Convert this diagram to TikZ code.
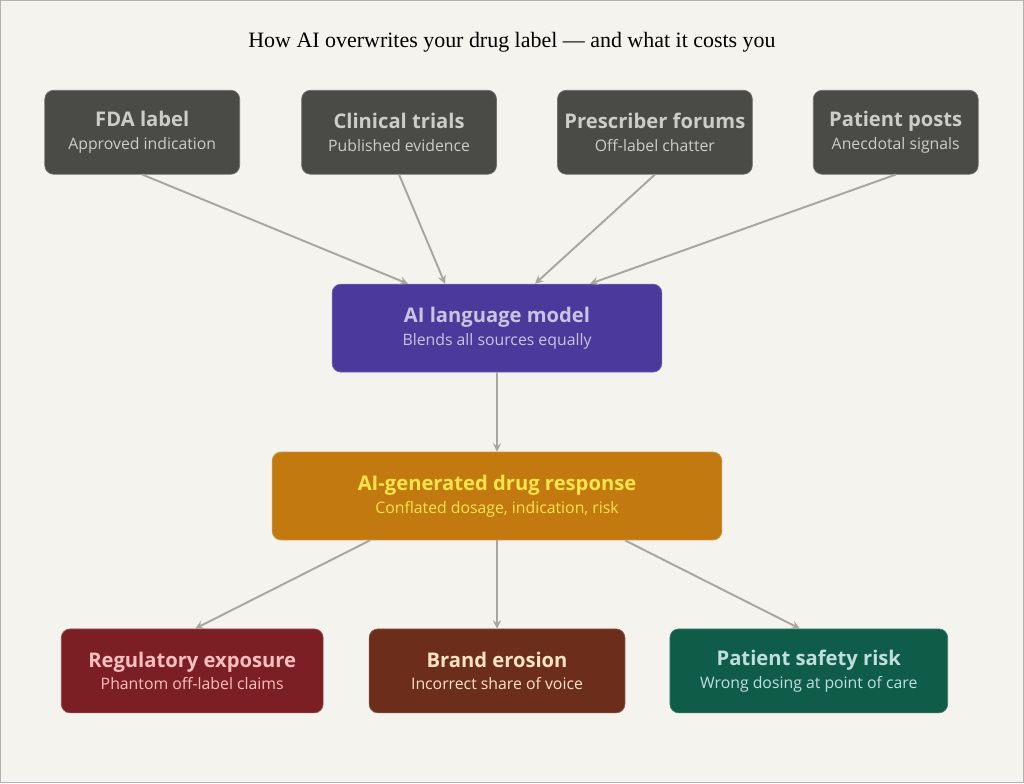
\documentclass[tikz,border=0pt]{standalone}
\usepackage{fontspec}
\setmainfont{Liberation Serif}
\setsansfont{Open Sans}
\usetikzlibrary{positioning}
\definecolor{bgc}{HTML}{F5F3EE}
\definecolor{srcc}{HTML}{4A4A47}
\definecolor{llmc}{HTML}{4B3A9C}
\definecolor{outc}{HTML}{C27A10}
\definecolor{regc}{HTML}{7C1F25}
\definecolor{brdc}{HTML}{6C2E1B}
\definecolor{patc}{HTML}{0F5C49}
\definecolor{arrc}{HTML}{A9A6A0}

\begin{document}
\begin{tikzpicture}[x=0.02cm,y=-0.02cm]
\tikzset{% styles for the boxes
    box/.style={rounded corners=5pt,minimum height=1.68cm,align=center,
                font=\sffamily\fontsize{9}{13}\selectfont,draw=#1!80!white,fill=#1},
    src/.style={box=srcc,minimum width=3.9cm,text=white!72!srcc},
    hit/.style={box=#1,minimum width=5.2cm,text=white!80!#1},
    arr/.style={-stealth,line width=1.1pt,arrc}}
\newcommand{\ttl}[1]{{\fontsize{11.5}{14}\selectfont\bfseries #1}}
\fill[bgc,draw=gray!60] (0,0) rectangle (1024,783);
\node[font=\fontsize{12.5}{15}\selectfont] (title) at (512,42) {How AI overwrites your drug label --- and what it costs you};
\node[src] (fda) at (142,132) {\ttl{FDA label}\\Approved indication};
\node[src] (trials) at (399,132) {\ttl{Clinical trials}\\Published evidence};
\node[src] (forums) at (655,132) {\ttl{Prescriber forums}\\Off-label chatter};
\node[src,minimum width=3.3cm] (posts) at (896,132) {\ttl{Patient posts}\\Anecdotal signals};
\node[box=llmc,minimum width=6.6cm,minimum height=1.76cm,text=llmc!30!white] (llm) at (497,328) {\ttl{AI language model}\\Blends all sources equally};
\node[box=outc,minimum width=9cm,minimum height=1.76cm,text=orange!30!yellow!70!white] (resp) at (497,496) {\ttl{AI-generated drug response}\\Conflated dosage, indication, risk};
\node[hit=regc,minimum width=5.24cm,text=red!25!white] (reg) at (192,671) {\ttl{Regulatory exposure}\\Phantom off-label claims};
\node[hit=brdc,minimum width=5.12cm,text=orange!22!white] (brand) at (497,671) {\ttl{Brand erosion}\\Incorrect share of voice};
\node[hit=patc,minimum width=5.56cm,text=teal!25!white] (safety) at (809,671) {\ttl{Patient safety risk}\\Wrong dosing at point of care};
\draw[arr] (fda.south) -- ([xshift=-1.78cm]llm.north);
\draw[arr] (trials.south) -- ([xshift=-1.04cm]llm.north);
\draw[arr] (forums.south) -- ([xshift=0.76cm]llm.north);
\draw[arr] (posts.south) -- ([xshift=1.86cm]llm.north);
\draw[arr] (llm.south) -- (resp.north);
\draw[arr] ([xshift=-2.54cm]resp.south) -- ([xshift=0.06cm]reg.north);
\draw[arr] (resp.south) -- (brand.north);
\draw[arr] ([xshift=2.56cm]resp.south) -- ([xshift=-0.18cm]safety.north);
\end{tikzpicture}
\end{document}
